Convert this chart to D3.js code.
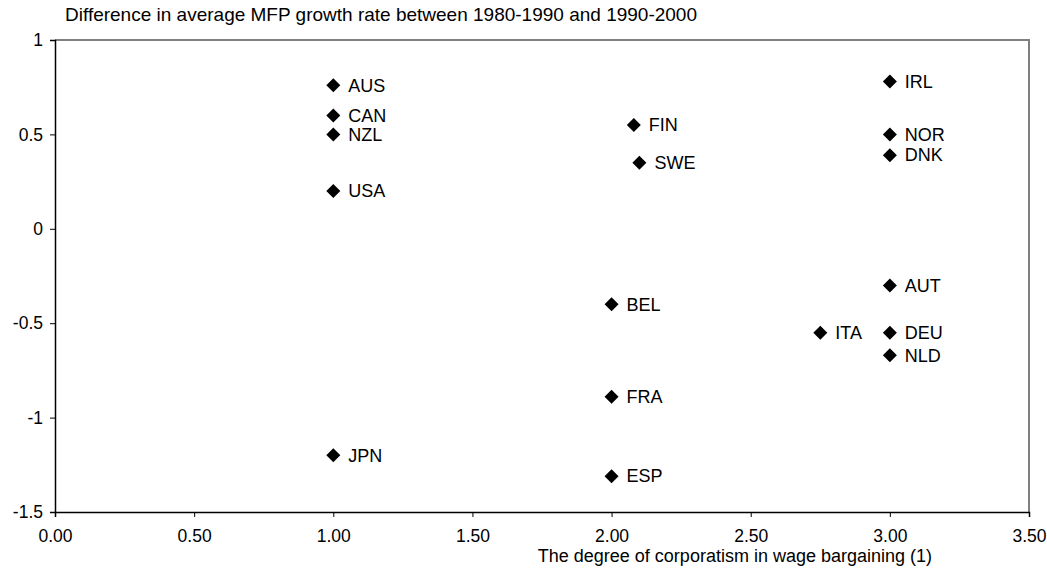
<!DOCTYPE html>
<html lang="en">
<head>
<meta charset="UTF-8">
<title>MFP growth vs corporatism</title>
<script src="https://d3js.org/d3.v7.min.js"></script>
<style>
  body { margin: 0; background: #fff; }
  text { font-family: "Liberation Sans", Arial, sans-serif; fill: #000; }
</style>
</head>
<body>
<div id="chart"></div>
<script>
// data
var countries = ["AUS", "CAN", "NZL", "USA", "JPN", "FIN", "SWE", "BEL", "FRA", "ESP", "ITA", "IRL", "NOR", "DNK", "AUT", "DEU", "NLD"];
var corporatism = [1, 1, 1, 1, 1, 2.08, 2.1, 2, 2, 2, 2.75, 3, 3, 3, 3, 3, 3];
var mfpDiff = [0.76, 0.6, 0.5, 0.2, -1.2, 0.55, 0.35, -0.4, -0.89, -1.31, -0.55, 0.78, 0.5, 0.39, -0.3, -0.55, -0.67];
var xTicks = [0, 0.5, 1, 1.5, 2, 2.5, 3, 3.5];
var yTicks = [1, 0.5, 0, -0.5, -1, -1.5];

var W = 1047, H = 573;
var margin = {top: 40, right: 18, bottom: 61, left: 55};
var fs = "17.5px";

var svg = d3.select("#chart").append("svg")
    .attr("width", W)
    .attr("height", H);

var x = d3.scaleLinear().domain([0, 3.5]).range([margin.left, W - margin.right]);
var y = d3.scaleLinear().domain([-1.5, 1]).range([H - margin.bottom, margin.top]);

// grey frame on top and right
svg.append("path")
    .attr("d", "M" + x(0) + "," + y(1) + "H" + x(3.5) + "V" + y(-1.5))
    .attr("fill", "none")
    .attr("stroke", "#808080")
    .attr("stroke-width", 2);

// x axis
var xAxis = svg.append("g")
    .attr("transform", "translate(0," + y(-1.5) + ")")
    .call(d3.axisBottom(x).tickValues(xTicks).tickFormat(d3.format(".2f")).tickSize(5).tickPadding(13));
xAxis.selectAll("text").style("font-size", fs).attr("font-family", null);

// y axis
var yAxis = svg.append("g")
    .attr("transform", "translate(" + x(0) + ",0)")
    .call(d3.axisLeft(y).tickValues(yTicks).tickFormat(function (d) { return String(d); }).tickSize(5).tickPadding(7));
yAxis.selectAll("text").style("font-size", fs).attr("font-family", null);

svg.selectAll(".domain").attr("stroke", "#000").attr("stroke-width", 1.5);
svg.selectAll(".tick line").attr("stroke", "#000");

// titles
svg.append("text")
    .attr("x", 65)
    .attr("y", 21)
    .style("font-size", "19px")
    .text("Difference in average MFP growth rate between 1980-1990 and 1990-2000");

svg.append("text")
    .attr("x", 932)
    .attr("y", 562)
    .attr("text-anchor", "end")
    .style("font-size", "18px")
    .text("The degree of corporatism in wage bargaining (1)");

// points
var r = 7;
var pts = svg.append("g").selectAll("g")
    .data(countries)
    .enter()
    .append("g")
    .attr("transform", function (d, i) { return "translate(" + x(corporatism[i]) + "," + y(mfpDiff[i]) + ")"; });

pts.append("path")
    .attr("d", "M0," + (-r) + "L" + r + ",0L0," + r + "L" + (-r) + ",0Z")
    .attr("fill", "#000");

pts.append("text")
    .attr("x", 15)
    .attr("dy", "0.35em")
    .style("font-size", "18px")
    .text(function (d) { return d; });
</script>
</body>
</html>
